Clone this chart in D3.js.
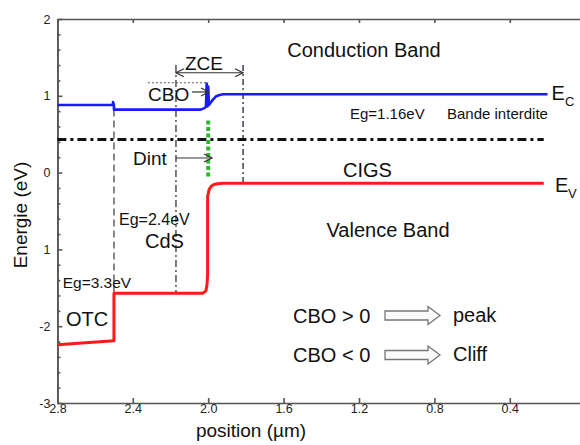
<!DOCTYPE html>
<html>
<head>
<meta charset="utf-8">
<script src="https://cdn.jsdelivr.net/npm/d3@7"></script>
<style>
  body { margin: 0; background: #fff; }
  svg { display: block; font-family: Arial, "Liberation Sans", sans-serif; }
  .tick text { font-size: 12.5px; fill: #222; }
</style>
</head>
<body>
<div class="chart"></div>
<script>
// band diagram data (position in µm, energy in eV)
const ecPos = [2.8, 2.505, 2.505, 2.5, 2.5, 2.04, 2.02, 2.012, 2.008, 2.004, 2.0, 1.996, 1.99, 1.975, 1.96, 1.94, 1.92, 0.2];
const ecE   = [0.88, 0.88, 0.92, 0.88, 0.82, 0.82, 0.84, 0.86, 1.16, 0.86, 1.12, 0.88, 0.9, 0.95, 0.99, 1.01, 1.02, 1.02];

const evPos = [2.8, 2.5, 2.5, 2.028, 2.012, 2.006, 2.003, 2.003, 1.995, 1.985, 1.97, 1.95, 1.92, 0.22];
const evE   = [-2.24, -2.19, -1.57, -1.57, -1.54, -1.45, -1.33, -0.31, -0.22, -0.18, -0.155, -0.145, -0.14, -0.14];

const fermiPos = [2.8, 0.22];
const fermiE = [0.43, 0.43];

const greenPos = [2.0, 2.0];
const greenE = [0.68, -0.06];

// vertical guides: position, top, bottom
const guidePos = [2.5, 2.171, 1.815];
const guideTop = [0.82, 1.40, 1.40];
const guideBottom = [-1.57, -1.57, -0.14];

const xTicks = [2.8, 2.4, 2.0, 1.6, 1.2, 0.8, 0.4];
const xTickLabels = ["2.8", "2.4", "2.0", "1.6", "1.2", "0.8", "0.4"];
const yTicks = [2, 1, 0, -1, -2, -3];
const yTickLabels = ["2", "1", "0", "1", "-2", "-3"];

const w = 580, h = 445;
const x = d3.scaleLinear().domain([2.8, 0]).range([57.4, 585.2]);
const y = d3.scaleLinear().domain([-3, 2]).range([403, 19]);

const svg = d3.select(".chart").append("svg").attr("width", w).attr("height", h);

const defs = svg.append("defs");
["end", "start"].forEach(k => {
  defs.append("marker")
    .attr("id", "head-" + k)
    .attr("viewBox", "0 0 10 10")
    .attr("refX", k == "end" ? 9 : 1).attr("refY", 5)
    .attr("markerWidth", 10).attr("markerHeight", 10)
    .attr("markerUnits", "userSpaceOnUse")
    .attr("orient", "auto")
    .append("path")
    .attr("d", k == "end" ? "M1,1 L9,5 L1,9" : "M9,1 L1,5 L9,9")
    .attr("fill", "none").attr("stroke", "#333").attr("stroke-width", 1.2);
});

// axes
const yAxis = d3.axisLeft(y).tickValues(yTicks).tickSize(-5).tickSizeOuter(0).tickPadding(7)
  .tickFormat((d, i) => yTickLabels[i]);
const yMinor = d3.axisLeft(y).tickValues(d3.range(-30, 21, 2).map(v => v / 10).filter(v => !yTicks.includes(v)))
  .tickSize(-3).tickSizeOuter(0).tickFormat("");
const xAxis = d3.axisBottom(x).tickValues(xTicks).tickSize(-5).tickSizeOuter(0).tickPadding(1)
  .tickFormat((d, i) => xTickLabels[i]);
const xTop = d3.axisTop(x).tickValues(xTicks).tickSize(-4).tickSizeOuter(0).tickFormat("");

svg.append("g").attr("transform", "translate(57.4,0)").call(yMinor);
svg.append("g").attr("transform", "translate(57.4,0)").call(yAxis);
svg.append("g").attr("transform", "translate(0,403)").call(xAxis);
svg.append("g").attr("transform", "translate(0,19)").call(xTop);
svg.selectAll(".domain, .tick line").attr("stroke", "#555").attr("stroke-width", 1.6);

// guide lines
const line = d3.line().x(d => x(d[0])).y(d => y(d[1]));
const dashes = ["7,4", "7,3,2,3", "6,3,2,3"];
const guideColors = ["#555", "#444", "#334"];
guidePos.forEach((p, i) => {
  svg.append("path")
    .attr("d", line([[p, guideTop[i]], [p, guideBottom[i]]]))
    .attr("stroke", guideColors[i]).attr("stroke-width", 1.4)
    .attr("stroke-dasharray", dashes[i]).attr("fill", "none");
});

// CBO dotted level
svg.append("path").attr("d", line([[2.32, 1.17], [2.0, 1.17]]))
  .attr("stroke", "#555").attr("stroke-width", 1.2).attr("stroke-dasharray", "2,2").attr("fill", "none");

// fermi level
svg.append("path").attr("d", line(fermiPos.map((p, i) => [p, fermiE[i]])))
  .attr("stroke", "#111").attr("stroke-width", 3).attr("stroke-dasharray", "9,4,3,4").attr("fill", "none");

// green interface line
svg.append("path").attr("d", line(greenPos.map((p, i) => [p, greenE[i]])))
  .attr("stroke", "#2db82d").attr("stroke-width", 4).attr("stroke-dasharray", "4,2.5").attr("fill", "none");

// bands
svg.append("path").attr("d", line(ecPos.map((p, i) => [p, ecE[i]])))
  .attr("stroke", "#1a1aff").attr("stroke-width", 2.6).attr("fill", "none").attr("stroke-linejoin", "round");
svg.append("path").attr("d", line(evPos.map((p, i) => [p, evE[i]])))
  .attr("stroke", "#ff1a1a").attr("stroke-width", 3).attr("fill", "none").attr("stroke-linejoin", "round");

// arrows
svg.append("path").attr("d", line([[2.171, 1.30], [1.815, 1.30]]))
  .attr("stroke", "#333").attr("stroke-width", 1.2)
  .attr("marker-start", "url(#head-start)").attr("marker-end", "url(#head-end)");
svg.append("path").attr("d", line([[2.086, 1.05], [1.996, 1.05]]))
  .attr("stroke", "#333").attr("stroke-width", 1.2).attr("marker-end", "url(#head-end)");
svg.append("path").attr("d", line([[2.171, 0.19], [1.98, 0.19]]))
  .attr("stroke", "#333").attr("stroke-width", 1.2).attr("marker-end", "url(#head-end)");

// hollow block arrows
function blockArrow(x0, x1, cy) {
  const hx = x1 - 12;
  const p = `M${x0},${cy - 4.5} L${hx},${cy - 4.5} L${hx},${cy - 9} L${x1},${cy} L${hx},${cy + 9} L${hx},${cy + 4.5} L${x0},${cy + 4.5} Z`;
  svg.append("path").attr("d", p).attr("fill", "#fafafa").attr("stroke", "#777").attr("stroke-width", 1.3);
}
blockArrow(385, 440, 315.5);
blockArrow(385, 440, 355);

// text
function txt(s, tx, ty, size, anchor) {
  return svg.append("text").attr("x", tx).attr("y", ty)
    .attr("font-size", size).attr("text-anchor", anchor || "start").attr("fill", "#111").text(s);
}
txt("Conduction Band", 364, 57, 20, "middle");
txt("Valence Band", 388, 237, 20, "middle");
txt("ZCE", 204, 70, 19, "middle");
txt("CBO", 148, 101, 19);
txt("Dint", 133, 165, 19);
txt("Eg=1.16eV", 350, 119, 15);
txt("Bande interdite", 447, 119, 15);
txt("CIGS", 343, 177, 20);
txt("E", 551.5, 100, 20);
txt("C", 565, 106, 13);
txt("E", 555, 192, 20);
txt("V", 568, 198, 13);
txt("Eg=2.4eV", 119, 225, 16);
txt("CdS", 145, 248, 20);
txt("Eg=3.3eV", 62.7, 288, 15.5);
txt("OTC", 66, 326, 20);
txt("CBO > 0", 293, 323, 20);
txt("CBO < 0", 293, 362, 20);
txt("peak", 453, 322, 20);
txt("Cliff", 453, 361, 20);
txt("position (µm)", 251, 437, 19, "middle");
svg.append("text").attr("transform", "translate(27,215) rotate(-90)")
  .attr("font-size", 19).attr("text-anchor", "middle").attr("fill", "#111").text("Energie (eV)");
</script>
</body>
</html>
